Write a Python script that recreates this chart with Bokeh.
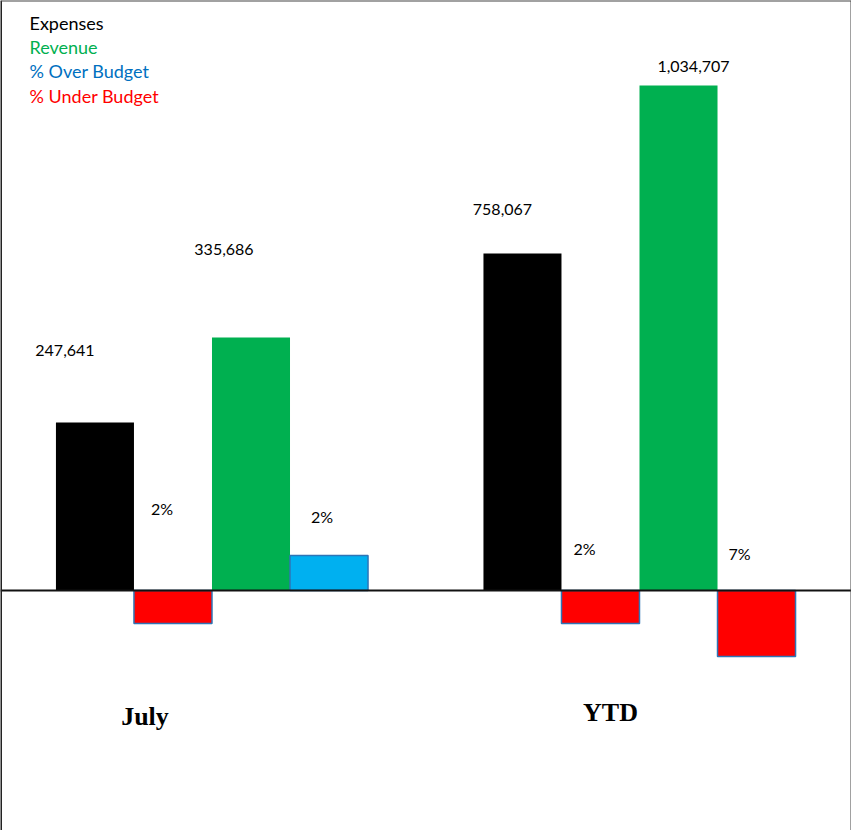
from bokeh.plotting import figure
from bokeh.models import ColumnDataSource, Range1d, Span, Label
from bokeh.core.properties import value
from bokeh.embed import file_html
from bokeh.resources import INLINE

# ---- data (bar heights, in chart units) ----
groups = ["July", "YTD"]
expenses = [168, 337]
revenue = [253, 505]
expense_var = [-33, -33]      # variance bars (negative = under budget)
revenue_var = [35, -66]
expense_labels = ["247,641", "758,067"]
revenue_labels = ["335,686", "1,034,707"]
expense_var_labels = ["2%", "2%"]
revenue_var_labels = ["2%", "7%"]
legend_items = ["Expenses", "Revenue", "% Over Budget", "% Under Budget"]

# ---- styles ----
C_EXP = "#000000"
C_REV = "#00b050"
C_OVER = "#00b0f0"
C_UNDER = "#ff0000"
C_EDGE = "#2e75b6"
LEGEND_COLORS = ["#000000", "#00b050", "#0070c0", "#ff0000"]
FONT = "Lato"

W, H = 851, 830
BW = 0.1825
x0, x1 = -0.4947, 1.4959
y0, y1 = -240, 590

p = figure(width=W, height=H, output_backend="svg", toolbar_location=None,
           x_range=Range1d(x0, x1), y_range=Range1d(y0, y1), min_border=0)
p.axis.visible = False
p.grid.visible = False
p.outline_line_color = None
p.background_fill_color = "white"

xi = list(range(len(groups)))
offs = [-1.5 * BW, -0.5 * BW, 0.5 * BW, 1.5 * BW]

def xs(k):
    return [i + offs[k] for i in xi]

def var_color(v):
    return C_OVER if v > 0 else C_UNDER

p.vbar(x=xs(0), top=expenses, bottom=0, width=BW, fill_color=C_EXP, line_color=None)
p.vbar(x=xs(1), top=expense_var, bottom=0, width=BW,
       fill_color=[var_color(v) for v in expense_var], line_color=C_EDGE, line_width=1.5)
p.vbar(x=xs(2), top=revenue, bottom=0, width=BW, fill_color=C_REV, line_color=None)
p.vbar(x=xs(3), top=revenue_var, bottom=0, width=BW,
       fill_color=[var_color(v) for v in revenue_var], line_color=C_EDGE, line_width=1.5)

# baseline
p.add_layout(Span(location=0, dimension="width", line_color="#111111", line_width=2))
# frame (left, top, right)
p.add_layout(Span(location=x0, dimension="height", line_color="#222222", line_width=3))
p.add_layout(Span(location=x1, dimension="height", line_color="#444444", line_width=2))
p.add_layout(Span(location=y1, dimension="width", line_color="#444444", line_width=2))

# value labels (layout offsets in screen px)
val_dx = [[-30, -20], [-27, 15]]
val_dy = [[-72, -44], [-88, -19]]
vx, vy, vt, vdx, vdy = [], [], [], [], []
for k, (vals, labs) in enumerate([(expenses, expense_labels), (revenue, revenue_labels)]):
    kk = 0 if k == 0 else 2
    for i in xi:
        vx.append(xs(kk)[i]); vy.append(vals[i]); vt.append(labs[i])
        vdx.append(val_dx[k][i]); vdy.append(val_dy[k][i])
pct_dx = [[-11, -16], [-7, -17]]
pct_dy = [[-82, -42], [-74, -37]]
for k, labs in enumerate([expense_var_labels, revenue_var_labels]):
    kk = 1 if k == 0 else 3
    for i in xi:
        vx.append(xs(kk)[i]); vy.append(0); vt.append(labs[i])
        vdx.append(pct_dx[k][i]); vdy.append(pct_dy[k][i])

src = ColumnDataSource(dict(x=vx, y=vy, text=vt, dx=vdx, dy=vdy))
p.text(x="x", y="y", text="text", x_offset="dx", y_offset="dy", source=src,
       text_align="center", text_baseline="middle", text_font=value(FONT),
       text_font_size="16px", text_color="#000000")

# category labels
cat_src = ColumnDataSource(dict(x=xi, y=[0, 0], text=groups, dx=[-67, -29], dy=[126, 122]))
p.text(x="x", y="y", text="text", x_offset="dx", y_offset="dy", source=cat_src,
       text_align="center", text_baseline="middle", text_font=value("Liberation Serif"),
       text_font_style="bold", text_font_size="26px", text_color="#000000")

# text legend
ppx = (x1 - x0) / W
for j, (name, col) in enumerate(zip(legend_items, LEGEND_COLORS)):
    p.add_layout(Label(x=x0 + 29 * ppx, y=y1 - (22 + 24.4 * j), text=name,
                       text_color=col, text_font=FONT, text_font_size="18px",
                       text_baseline="middle", text_align="left"))

open("out.html", "w").write(file_html(p, INLINE))
